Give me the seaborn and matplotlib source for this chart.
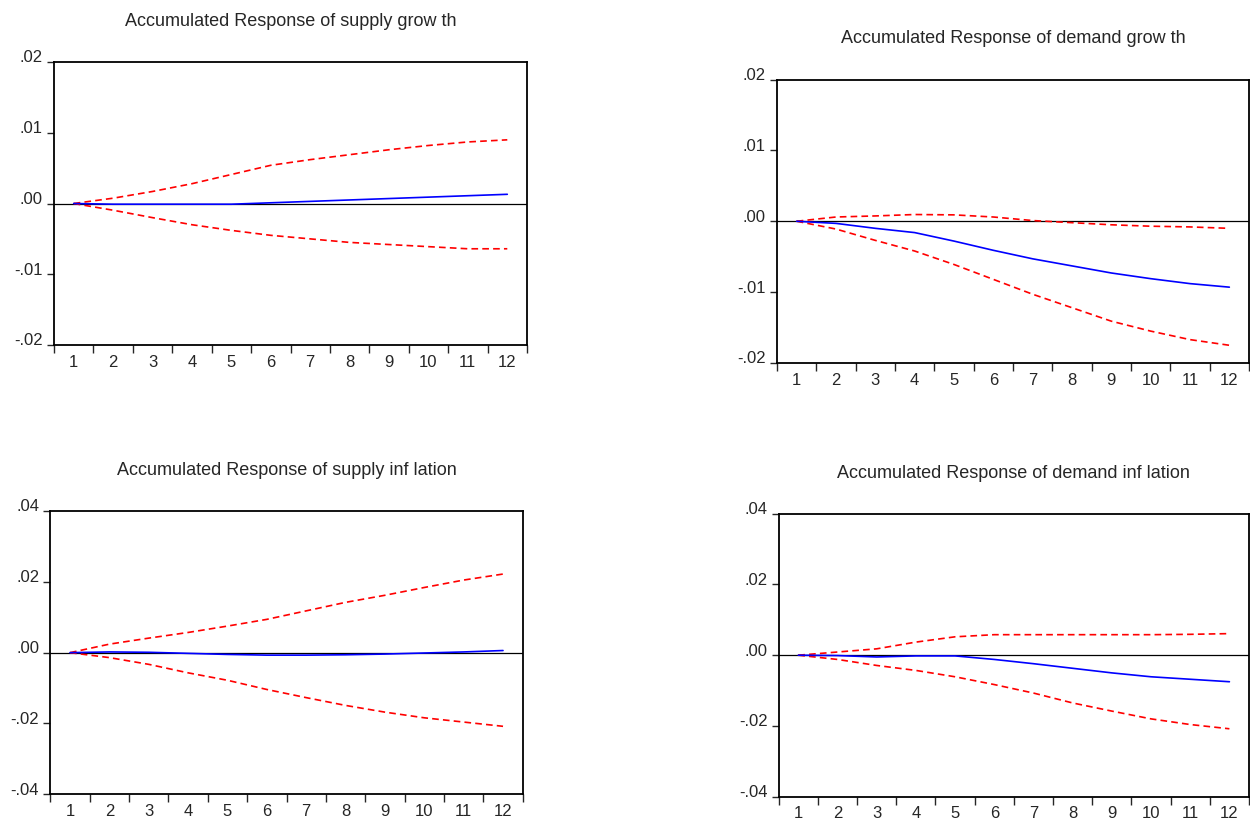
import numpy as np
import pandas as pd
import matplotlib
matplotlib.use("Agg")
import matplotlib.pyplot as plt
import matplotlib.transforms as mtransforms
from matplotlib.ticker import FixedLocator, FuncFormatter
import seaborn as sns

## data ----------------------------------------------------------------------
periods = list(range(1, 13))

# supply growth
sg_resp  = [0.0, -0.0001, -0.0001, -0.0001, -0.0001, 0.0001, 0.0003, 0.0005, 0.0007, 0.0009, 0.0011, 0.0013]
sg_upper = [0.0, 0.00075, 0.0017, 0.0028, 0.0041, 0.0054, 0.0062, 0.0069, 0.0076, 0.0082, 0.0087, 0.0090]
sg_lower = [0.0, -0.00095, -0.0020, -0.0030, -0.0038, -0.0045, -0.0050, -0.0055, -0.0058, -0.0061, -0.0064, -0.0064]

# demand growth
dg_resp  = [0.0, -0.0003, -0.0010, -0.0016, -0.0028, -0.0041, -0.0053, -0.0063, -0.0073, -0.0081, -0.0088, -0.0093]
dg_upper = [0.0, 0.0006, 0.00075, 0.00095, 0.0009, 0.0006, 0.0001, -0.0002, -0.0005, -0.0007, -0.0008, -0.0010]
dg_lower = [0.0, -0.0011, -0.0027, -0.0042, -0.0061, -0.0082, -0.0103, -0.0122, -0.0141, -0.0155, -0.0167, -0.0175]

# supply inflation
si_resp  = [0.0, 0.0002, 0.0001, -0.0002, -0.0005, -0.0007, -0.0007, -0.0006, -0.0004, -0.0001, 0.0002, 0.0006]
si_upper = [0.0, 0.0024, 0.0041, 0.0057, 0.0075, 0.0094, 0.0118, 0.0142, 0.0162, 0.0184, 0.0205, 0.0222]
si_lower = [0.0, -0.0014, -0.0033, -0.0057, -0.0078, -0.0104, -0.0127, -0.0149, -0.0168, -0.0184, -0.0196, -0.0208]

# demand inflation
di_resp  = [0.0, -0.0001, -0.0005, -0.0002, -0.0002, -0.0012, -0.0024, -0.0037, -0.0050, -0.0061, -0.0068, -0.0075]
di_upper = [0.0, 0.0009, 0.0018, 0.0037, 0.0052, 0.0058, 0.0058, 0.0058, 0.0058, 0.0058, 0.0059, 0.0061]
di_lower = [0.0, -0.0012, -0.0029, -0.0043, -0.0061, -0.0083, -0.0107, -0.0135, -0.0158, -0.0180, -0.0196, -0.0208]

titles = ["Accumulated Response of supply grow th",
          "Accumulated Response of demand grow th",
          "Accumulated Response of supply inf lation",
          "Accumulated Response of demand inf lation"]
ylims  = [0.02, 0.02, 0.04, 0.04]
ysteps = [0.01, 0.01, 0.02, 0.02]

## layout (pixels -> figure fractions) ----------------------------------------
W, H = 1250, 823
boxes = [(54, 62, 527, 345),
         (777, 79.5, 1249, 363),
         (50.3, 511, 522.7, 794.3),
         (778.7, 513.7, 1249, 796.7)]

series = [(sg_resp, sg_upper, sg_lower),
          (dg_resp, dg_upper, dg_lower),
          (si_resp, si_upper, si_lower),
          (di_resp, di_upper, di_lower)]

sns.set_style("ticks")
plt.rcParams["font.family"] = ["Liberation Sans", "DejaVu Sans"]

fig = plt.figure(figsize=(12.5, 8.23), dpi=100)


def fmt_tick(v, pos):
    if abs(v) < 1e-9:
        return ".00"
    return ("%.2f" % v).replace("0.", ".")


for (x0, y0, x1, y1), (resp, up, lo), title, lim, step in zip(boxes, series, titles, ylims, ysteps):
    ax = fig.add_axes([x0 / W, 1 - y1 / H, (x1 - x0) / W, (y1 - y0) / H])
    df = pd.DataFrame({"period": periods, "resp": resp, "upper": up, "lower": lo})

    ax.axhline(0, color="black", lw=0.9, zorder=1)
    sns.lineplot(data=df, x="period", y="upper", ax=ax, color="red", lw=1.2,
                 linestyle=(0, (4, 2.5)))
    sns.lineplot(data=df, x="period", y="lower", ax=ax, color="red", lw=1.2,
                 linestyle=(0, (4, 2.5)))
    sns.lineplot(data=df, x="period", y="resp", ax=ax, color="blue", lw=1.2)

    ax.set_xlim(0.5, 12.5)
    ax.set_ylim(-lim, lim)
    ax.set_xlabel("")
    ax.set_ylabel("")

    # ticks at the period boundaries, labels at the centres
    ax.xaxis.set_major_locator(FixedLocator(np.arange(0.5, 13, 1)))
    ax.xaxis.set_major_formatter(FuncFormatter(lambda v, p: ""))
    ax.xaxis.set_minor_locator(FixedLocator(periods))
    ax.xaxis.set_minor_formatter(FuncFormatter(lambda v, p: "%d" % round(v)))
    ax.tick_params(axis="x", which="major", length=6, width=1.0, direction="out")
    ax.tick_params(axis="x", which="minor", length=0, pad=7, labelsize=12)

    ax.set_yticks(np.arange(-lim, lim + step / 2, step))
    ax.yaxis.set_major_formatter(FuncFormatter(fmt_tick))
    ax.tick_params(axis="y", length=5, width=1.0, direction="out", pad=3, labelsize=12)
    shift = mtransforms.ScaledTranslation(0, 4 / 72, fig.dpi_scale_trans)
    for lab in ax.get_yticklabels():
        lab.set_transform(lab.get_transform() + shift)

    for sp in ax.spines.values():
        sp.set_visible(True)
        sp.set_linewidth(1.3)
        sp.set_color("black")

    ax.set_title(title, fontsize=13, pad=26)

plt.savefig("out.png", dpi=100)
